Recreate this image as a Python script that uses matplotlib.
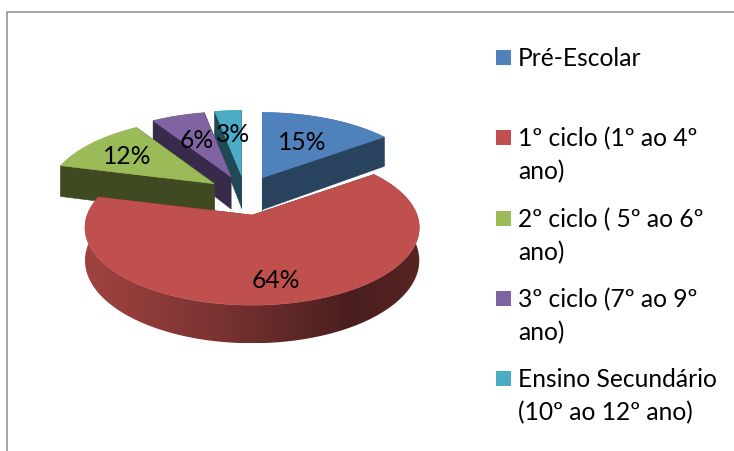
import numpy as np
import matplotlib.pyplot as plt
from matplotlib.colors import to_rgb
from matplotlib.patches import Polygon, Rectangle

categories = ['Pré-Escolar', '1º ciclo (1º ao 4º\nano)', '2º ciclo ( 5º ao 6º\nano)',
              '3º ciclo (7º ao 9º\nano)', 'Ensino Secundário\n(10º ao 12º ano)']
values = [15, 64, 12, 6, 3]
top_colors = ['#4f81bd', '#c0504d', '#9bbb59', '#8064a2', '#4bacc6']
face_colors = ['#29435f', '#5a2321', '#404a22', '#382a4a', '#1f4a55']

# pie geometry in pixels
CX, CY = 245, 195.5
RX, RY = 165, 75.6
PERSP = 0.16
EXPLODE_X, EXPLODE_Y = 38, 20
DEPTH = 32

# legend layout in pixels
legend_baselines = [66, 146, 227, 307, 387]
label_pos = [(302, 143), (276, 280), (127, 157), (197, 140), (233, 135)]
LINE_H = 33.5
FONT = 'Lato'
FS = 17.7

plt.rcParams['font.family'] = [FONT, 'DejaVu Sans']


def project(tip, angle, r=1.0, drop=0.0):
    # angle in degrees, clockwise from 12 o'clock
    a = np.radians(angle)
    u, v = r * np.sin(a), r * np.cos(a)
    s = 1 / (1 + PERSP * v)
    return np.column_stack([tip[0] + RX * u * s,
                            tip[1] - RY * v * s + drop * s])


fig = plt.figure(figsize=(7.34, 4.51), dpi=100)
ax = fig.add_axes([0, 0, 1, 1])

# chart frame, only left and top are inside the picture
ax.plot([6.5, 6.5, 734], [451, 11.7, 11.7], color='#8c8c8c', lw=1.1)

# slice angles
ends = np.cumsum(values) / sum(values) * 360
starts = np.concatenate([[0], ends[:-1]])

# back slices first, the big red one last
order = [4, 3, 0, 2, 1]
for i in order:
    a0, a1 = starts[i], ends[i]
    mid = np.radians((a0 + a1) / 2)
    tip = (CX + EXPLODE_X * np.sin(mid), CY - EXPLODE_Y * np.cos(mid))
    base = np.array(to_rgb(top_colors[i]))

    # outer wall, darker towards the right
    angles = np.linspace(a0, a1, 200)
    wall = np.vstack([project(tip, angles), project(tip, angles[::-1], drop=DEPTH)])
    xs = np.linspace(tip[0] - RX * 1.1, tip[0] + RX * 1.1, 256)
    shade = np.interp((xs - tip[0]) / RX, [-1, -0.3, 0.6, 1], [0.83, 0.66, 0.38, 0.45])
    grad = (base[None, None, :] * shade[None, :, None]).clip(0, 1)
    im = ax.imshow(grad, extent=(xs[0], xs[-1], wall[:, 1].max(), wall[:, 1].min()),
                   aspect='auto', interpolation='bilinear', zorder=1)
    im.set_clip_path(Polygon(wall, closed=True, transform=ax.transData))

    # cut faces
    for a in (a0, a1):
        end = project(tip, np.array([a]))[0]
        end_low = project(tip, np.array([a]), drop=DEPTH)[0]
        face = [tip, end, end_low, (tip[0], tip[1] + DEPTH)]
        ax.add_patch(Polygon(face, closed=True, fc=face_colors[i], ec=face_colors[i],
                             lw=0.4, zorder=1))

    # top surface
    arc = project(tip, np.linspace(a0, a1, 200))
    ax.add_patch(Polygon(np.vstack([[tip], arc]), closed=True,
                         fc=top_colors[i], ec=top_colors[i], lw=0.4, zorder=1))

# percent labels
for v, (x, y) in zip(values, label_pos):
    ax.text(x, y, f'{v}%', ha='center', va='center', fontsize=FS, color='black', zorder=3)

# legend
for name, col, y in zip(categories, top_colors, legend_baselines):
    ax.add_patch(Rectangle((496, y - 16), 15, 15, fc=col, ec='none'))
    for n, line in enumerate(name.split('\n')):
        ax.text(518, y + n * LINE_H, line, ha='left', va='baseline',
                fontsize=FS, color='black')

ax.set_xlim(0, 734)
ax.set_ylim(451, 0)
ax.axis('off')

fig.savefig('out.png', dpi=100)
